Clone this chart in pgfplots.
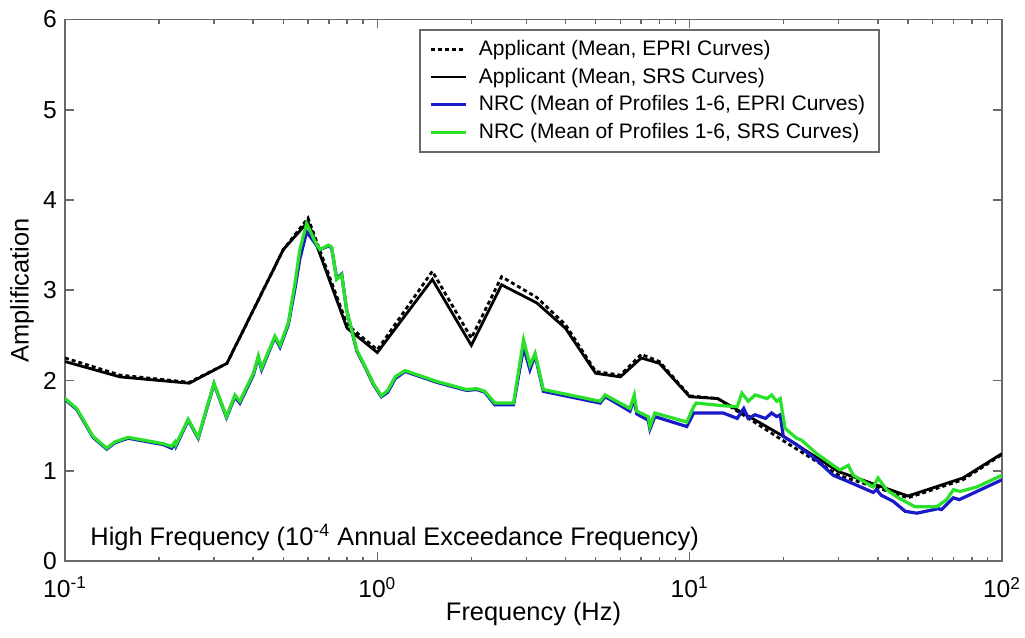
\documentclass[border=0pt]{standalone}
\usepackage{fontspec}
\setmainfont{Liberation Sans}
\usepackage{pgfplots}
\pgfplotsset{compat=1.18}
\definecolor{axgray}{RGB}{105,105,105}
\definecolor{nrcblue}{RGB}{25,25,200}
\definecolor{nrcgreen}{RGB}{40,225,40}
\begin{document}
\begin{tikzpicture}
\begin{axis}[
  at={(0,0)}, anchor=south west,
  scale only axis, width=468.5pt, height=270.75pt,
  xmode=log, xmin=0.1, xmax=100, ymin=0, ymax=6,
  ytick={0,1,2,3,4,5,6},
  xtick={0.1,1,10,100},
  xticklabels={10\textsuperscript{-1},10\textsuperscript{0},10\textsuperscript{1},10\textsuperscript{2}},
  minor xtick={0.2,0.3,0.4,0.5,0.6,0.7,0.8,0.9,2,3,4,5,6,7,8,9,20,30,40,50,60,70,80,90},
  tick align=inside, major tick length=4.5pt, minor tick length=2.2pt,
  axis line style={axgray, line width=0.8pt},
  every tick/.style={axgray, line width=0.8pt},
  /pgf/number format/assume math mode=true,
  tick label style={font=\fontsize{12.3}{14}\selectfont, black},
  xticklabel style={yshift=-4.5pt},
  yticklabel style={xshift=-0.5pt},
  xlabel={Frequency (Hz)}, ylabel={Amplification},
  label style={font=\fontsize{12.7}{15}\selectfont},
  xlabel style={at={(axis description cs:0.5,-0.097)}, anchor=center},
  ylabel style={at={(axis description cs:-0.0459,0.5)}, anchor=center},
  legend style={at={(axis description cs:0.8698,0.982)}, anchor=north east,
    draw=axgray, line width=0.8pt, font=\fontsize{10.5}{12}\selectfont,
    row sep=0.8pt, inner xsep=5pt, inner ysep=3pt},
  legend cell align=left,
  legend image code/.code={\draw[#1] (0pt,0pt) -- (17.5pt,0pt); \path (21pt,0pt);},
]
\addplot[black, line width=1.4pt, dash pattern=on 2pt off 1.5pt] coordinates {
(0.1,2.25)(0.15,2.06)(0.25,1.98)(0.33,2.19)(0.5,3.45)(0.6,3.80)(0.8,2.62)(1.0,2.34)
(1.5,3.21)(2.0,2.47)(2.5,3.15)(3.24,2.92)(4.0,2.62)(5.0,2.10)(6.0,2.06)(7.0,2.29)
(8.0,2.21)(10,1.83)(12.3,1.80)(20,1.33)(30,0.95)(50,0.70)(75,0.90)(100,1.18)};
\addlegendentry{Applicant (Mean, EPRI Curves)}
\addplot[black, line width=1.4pt] coordinates {
(0.1,2.21)(0.15,2.04)(0.25,1.97)(0.33,2.19)(0.5,3.45)(0.6,3.76)(0.8,2.58)(1.0,2.31)
(1.5,3.12)(2.0,2.39)(2.5,3.06)(3.24,2.86)(4.0,2.58)(5.0,2.08)(6.0,2.04)(7.0,2.25)
(8.0,2.19)(10,1.82)(12.3,1.80)(20,1.38)(30,0.99)(50,0.72)(75,0.92)(100,1.19)};
\addlegendentry{Applicant (Mean, SRS Curves)}
\addplot[nrcblue, line width=1.6pt] coordinates {
(0.1,1.79)(0.109,1.68)(0.123,1.37)(0.136,1.24)(0.1445,1.31)(0.1595,1.36)(0.178,1.33)
(0.2065,1.29)(0.2195,1.25)(0.225,1.30)(0.2265,1.27)(0.248,1.56)(0.267,1.36)(0.300,1.96)
(0.329,1.59)(0.350,1.82)(0.363,1.75)(0.401,2.06)(0.416,2.26)(0.426,2.12)(0.470,2.48)
(0.488,2.37)(0.519,2.62)(0.545,3.02)(0.565,3.35)(0.594,3.65)(0.632,3.52)(0.655,3.45)
(0.697,3.49)(0.714,3.47)(0.741,3.13)(0.769,3.18)(0.798,2.78)(0.859,2.33)(0.925,2.11)
(0.97,1.96)(1.03,1.82)(1.08,1.87)(1.14,2.02)(1.227,2.10)(1.55,1.98)(1.93,1.89)(2.08,1.90)
(2.21,1.87)(2.38,1.73)(2.73,1.73)(2.94,2.37)(3.08,2.12)(3.20,2.28)(3.40,1.88)
(5.17,1.75)(5.36,1.82)(5.63,1.78)(6.44,1.66)(6.65,1.80)(6.77,1.63)(7.37,1.56)(7.46,1.46)
(7.74,1.60)(9.79,1.49)(10.3,1.64)(12.8,1.64)(14.2,1.58)(14.9,1.69)(15.4,1.58)(16.2,1.62)
(17.5,1.58)(18.3,1.64)(19.0,1.60)(19.5,1.62)(19.95,1.38)(22.0,1.29)(25.5,1.12)(28.8,0.95)
(32.2,0.88)(38.7,0.76)(39.7,0.79)(41,0.73)(44.9,0.66)(49,0.55)(53.4,0.53)(62.5,0.58)
(64,0.57)(69.9,0.70)(73,0.68)(100,0.90)};
\addlegendentry{NRC (Mean of Profiles 1-6, EPRI Curves)}
\addplot[nrcgreen, line width=1.6pt] coordinates {
(0.1,1.80)(0.109,1.69)(0.123,1.38)(0.136,1.25)(0.1445,1.32)(0.1595,1.37)(0.178,1.34)
(0.2065,1.30)(0.2195,1.27)(0.225,1.32)(0.2265,1.29)(0.248,1.57)(0.267,1.37)(0.300,1.97)
(0.329,1.60)(0.350,1.84)(0.363,1.77)(0.401,2.08)(0.416,2.27)(0.426,2.14)(0.470,2.49)
(0.488,2.39)(0.519,2.64)(0.545,3.08)(0.565,3.45)(0.594,3.74)(0.632,3.54)(0.655,3.45)
(0.697,3.50)(0.714,3.48)(0.741,3.12)(0.769,3.17)(0.798,2.78)(0.859,2.34)(0.925,2.12)
(0.97,1.97)(1.03,1.83)(1.08,1.89)(1.14,2.04)(1.227,2.11)(1.55,1.99)(1.93,1.90)(2.08,1.91)
(2.21,1.88)(2.38,1.75)(2.73,1.75)(2.94,2.45)(3.08,2.17)(3.20,2.30)(3.40,1.90)
(5.17,1.77)(5.36,1.84)(5.63,1.80)(6.44,1.69)(6.65,1.84)(6.77,1.66)(7.37,1.60)(7.46,1.49)
(7.74,1.64)(9.79,1.54)(10.3,1.71)(10.5,1.75)(12.8,1.72)(14.2,1.71)(14.7,1.86)(15.4,1.77)
(16.2,1.84)(17.7,1.80)(18.3,1.84)(19.0,1.77)(19.5,1.80)(20.2,1.47)(22.0,1.36)(22.8,1.34)
(25.5,1.19)(28.8,1.06)(30.3,1.01)(32.2,1.06)(33.4,0.95)(38.7,0.82)(40.1,0.92)(42.7,0.79)
(46.6,0.70)(52.7,0.60)(61.8,0.60)(66.5,0.68)(69.9,0.79)(73.4,0.77)(83,0.82)(100,0.95)};
\addlegendentry{NRC (Mean of Profiles 1-6, SRS Curves)}
\node[anchor=base west, inner sep=0pt, font=\fontsize{12.7}{15}\selectfont]
  at (axis description cs:0.0267,0.0295)
  {High Frequency (10\textsuperscript{-4} Annual Exceedance Frequency)};
\end{axis}
\pgfresetboundingbox
\path (-32.5pt,-38.5pt) rectangle (480pt,280.5pt);
\end{tikzpicture}
\end{document}
